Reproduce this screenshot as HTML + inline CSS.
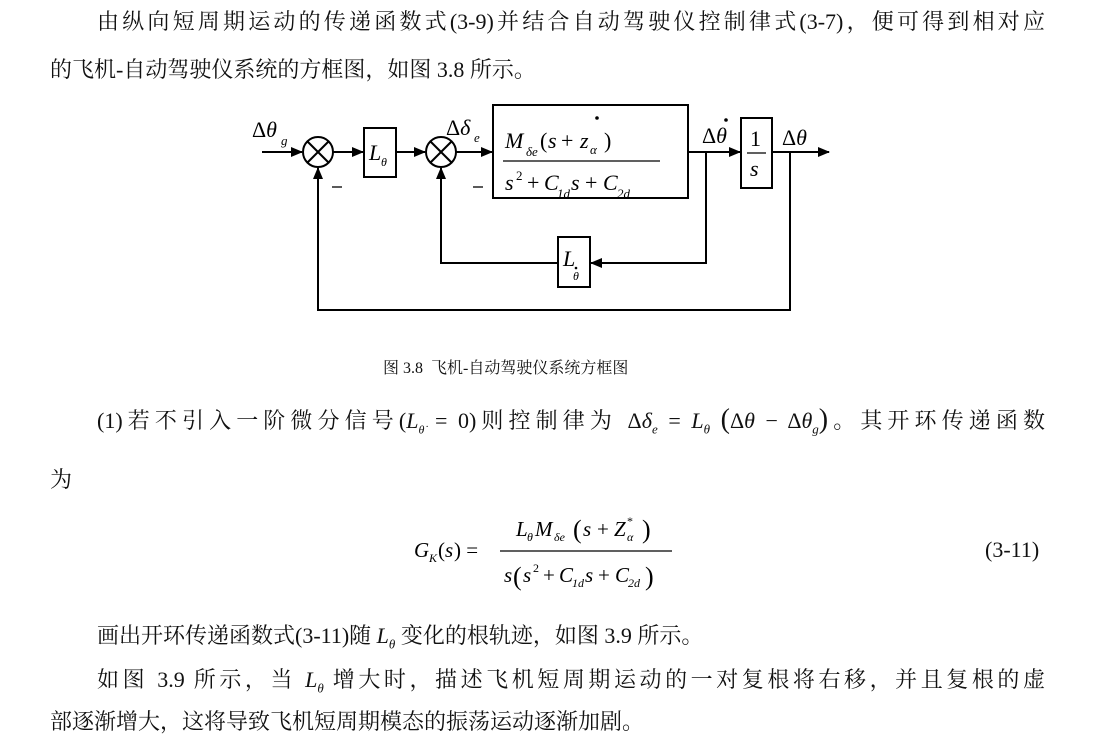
<!DOCTYPE html>
<html><head><meta charset="utf-8"><style>
body{margin:0;background:#fff;width:1120px;height:755px;overflow:hidden;position:relative;font-family:"Liberation Serif","Noto Serif CJK SC","Noto Sans CJK SC",serif;color:#111}
.t{position:absolute;font-size:22px;line-height:26px;white-space:nowrap}
.j{text-align-last:justify;text-align:justify;white-space:normal}
i{font-style:italic}
svg{position:absolute;left:0;top:0}
</style></head><body>
<div class="t j" style="left:97px;top:9px;width:948px">由纵向短周期运动的传递函数式(3-9)并结合自动驾驶仪控制律式(3-7)，便可得到相对应</div>
<div class="t" style="left:50px;top:57px">的飞机-自动驾驶仪系统的方框图，如图 3.8 所示。</div>
<div class="t" style="left:383px;top:356px;font-size:16px">图 3.8&nbsp; 飞机-自动驾驶仪系统方框图</div>
<div class="t j" style="left:97px;top:407px;width:948px">(1)若不引入一阶微分信号(<i>L</i><sub style="font-size:12px"><i>θ̇</i></sub> = 0)则控制律为 Δ<i>δ</i><sub style="font-size:13px"><i>e</i></sub> = <i>L</i><sub style="font-size:13px"><i>θ</i></sub> <span style="font-size:28px">(</span>Δ<i>θ</i> − Δ<i>θ</i><sub style="font-size:13px"><i>g</i></sub><span style="font-size:28px">)</span>。其开环传递函数</div>
<div class="t" style="left:50px;top:467px">为</div>
<div class="t" style="left:985px;top:537px">(3-11)</div>
<div class="t" style="left:97px;top:623px">画出开环传递函数式(3-11)随 <i>L</i><sub style="font-size:13px"><i>θ</i></sub> 变化的根轨迹，如图 3.9 所示。</div>
<div class="t j" style="left:97px;top:667px;width:948px">如图 3.9 所示，当 <i>L</i><sub style="font-size:13px"><i>θ</i></sub> 增大时，描述飞机短周期运动的一对复根将右移，并且复根的虚</div>
<div class="t" style="left:50px;top:709px">部逐渐增大，这将导致飞机短周期模态的振荡运动逐渐加剧。</div>
<svg width="1120" height="755" font-family="Liberation Serif,serif" font-style="italic">
<defs><marker id="a" markerWidth="12" markerHeight="10" refX="11" refY="5" orient="auto" markerUnits="userSpaceOnUse"><path d="M0,0 L12,5 L0,10 Z" fill="#000"/></marker></defs>
<g stroke="#000" stroke-width="2" fill="none">
<line x1="262" y1="152" x2="302" y2="152" marker-end="url(#a)"/>
<circle cx="318" cy="152" r="15"/>
<line x1="307" y1="141" x2="329" y2="163"/><line x1="329" y1="141" x2="307" y2="163"/>
<line x1="333" y1="152" x2="363" y2="152" marker-end="url(#a)"/>
<rect x="364" y="128" width="32" height="49"/>
<line x1="396" y1="152" x2="425" y2="152" marker-end="url(#a)"/>
<circle cx="441" cy="152" r="15"/>
<line x1="430" y1="141" x2="452" y2="163"/><line x1="452" y1="141" x2="430" y2="163"/>
<line x1="456" y1="152" x2="492" y2="152" marker-end="url(#a)"/>
<rect x="493" y="105" width="195" height="93"/>
<line x1="503" y1="161" x2="660" y2="161" stroke-width="1.3"/>
<line x1="688" y1="152" x2="740" y2="152" marker-end="url(#a)"/>
<rect x="741" y="118" width="31" height="70"/>
<line x1="747" y1="153" x2="766" y2="153" stroke-width="1.3"/>
<line x1="772" y1="152" x2="829" y2="152" marker-end="url(#a)"/>
<polyline points="706,152 706,263 591,263" marker-end="url(#a)"/>
<rect x="558" y="237" width="32" height="50"/>
<polyline points="558,263 441,263 441,168" marker-end="url(#a)"/>
<polyline points="790,152 790,310 318,310 318,168" marker-end="url(#a)"/>
<line x1="332" y1="187" x2="342" y2="187" stroke-width="1.3"/>
<line x1="473" y1="187" x2="483" y2="187" stroke-width="1.3"/>
</g>
<g fill="#000" font-size="22">
<text x="252" y="137" font-style="normal">Δ<tspan font-style="italic">θ</tspan></text><text x="281" y="145" font-size="13">g</text>
<text x="369" y="160">L</text><text x="381" y="166" font-size="12">θ</text>
<text x="446" y="135" font-style="normal">Δ<tspan font-style="italic">δ</tspan></text><text x="474" y="142" font-size="13">e</text>
<text x="505" y="148">M</text><text x="526" y="156" font-size="13">δe</text><text x="540" y="148" font-style="normal">(</text><text x="548" y="148">s</text><text x="561" y="148" font-style="normal">+</text><text x="580" y="148">z</text><text x="590" y="154" font-size="13">α</text><text x="604" y="148" font-style="normal">)</text>
<circle cx="597" cy="118" r="1.8"/>
<text x="505" y="190">s</text><text x="516" y="180" font-size="13" font-style="normal">2</text><text x="527" y="190" font-style="normal">+</text><text x="544" y="190">C</text><text x="557" y="198" font-size="13">1d</text><text x="571" y="190">s</text><text x="585" y="190" font-style="normal">+</text><text x="603" y="190">C</text><text x="617" y="198" font-size="13">2d</text>
<text x="702" y="143" font-style="normal">Δ<tspan font-style="italic">θ</tspan></text><circle cx="726" cy="120" r="1.8"/>
<text x="750" y="146" font-style="normal">1</text><text x="750" y="176">s</text>
<text x="782" y="145" font-style="normal">Δ<tspan font-style="italic">θ</tspan></text>
<text x="563" y="266">L</text><text x="573" y="280" font-size="12">θ</text><circle cx="576" cy="268" r="1.3"/>
</g>
<g fill="#000" font-size="21">
<text x="414" y="557">G</text><text x="429" y="562" font-size="12">K</text><text x="438" y="557" font-style="normal">(</text><text x="445" y="557">s</text><text x="454" y="557" font-style="normal">) =</text>
<text x="516" y="536">L</text><text x="527" y="541" font-size="12">θ</text><text x="535" y="536">M</text><text x="554" y="541" font-size="12">δe</text><text x="573" y="538" font-size="26" font-style="normal">(</text><text x="583" y="536">s</text><text x="597" y="536" font-style="normal">+</text><text x="614" y="536">Z</text><text x="627" y="525" font-size="12" font-style="normal">*</text><text x="627" y="541" font-size="12">α</text><text x="642" y="538" font-size="26" font-style="normal">)</text>
<line x1="500" y1="551" x2="672" y2="551" stroke="#000" stroke-width="1.3"/>
<text x="504" y="582">s</text><text x="513" y="585" font-size="26" font-style="normal">(</text><text x="523" y="582">s</text><text x="533" y="572" font-size="12" font-style="normal">2</text><text x="543" y="582" font-style="normal">+</text><text x="559" y="582">C</text><text x="572" y="587" font-size="12">1d</text><text x="585" y="582">s</text><text x="598" y="582" font-style="normal">+</text><text x="615" y="582">C</text><text x="628" y="587" font-size="12">2d</text><text x="645" y="585" font-size="26" font-style="normal">)</text>
</g>
</svg>
</body></html>
